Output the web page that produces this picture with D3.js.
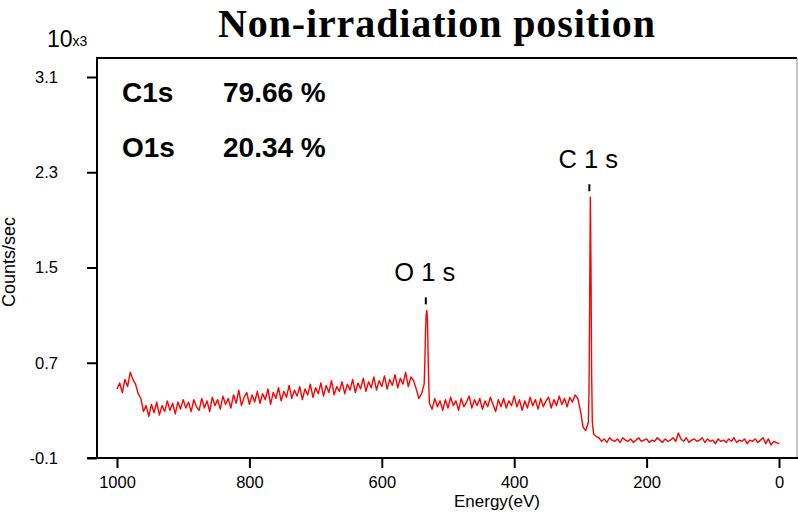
<!DOCTYPE html>
<html>
<meta charset="utf-8">
<title>Non-irradiation position</title>
<script src="https://cdnjs.cloudflare.com/ajax/libs/d3/7.8.5/d3.min.js"></script>
<style>
body { margin: 0; background: #fff; }
text { font-family: "Liberation Sans", Arial, sans-serif; fill: #000; }
.title { font-family: "Liberation Serif", "Times New Roman", serif; font-weight: bold; font-size: 40px; }
.tick text { font-size: 16.5px; }
.comp { font-size: 28px; font-weight: bold; }
.peak { font-size: 25.5px; }
</style>
<body>
<div id="chart"></div>
<script>
// spectrum, counts/sec in units of 10^3, sampled every 4 eV from 1000 eV down to 0 eV
var energyStart = 1000, energyStep = 4;
var counts = [
  0.48,0.53,0.45,0.56,0.50,0.62,0.56,0.52,0.44,0.40,
  0.29,0.34,0.25,0.35,0.28,0.37,0.26,0.34,0.29,0.38,
  0.30,0.36,0.27,0.37,0.31,0.39,0.32,0.37,0.29,0.39,
  0.33,0.30,0.40,0.32,0.38,0.29,0.41,0.34,0.39,0.31,
  0.42,0.35,0.40,0.32,0.43,0.36,0.47,0.34,0.41,0.45,
  0.35,0.43,0.37,0.46,0.36,0.44,0.39,0.48,0.35,0.45,
  0.40,0.49,0.38,0.46,0.41,0.51,0.40,0.47,0.42,0.50,
  0.39,0.48,0.43,0.52,0.41,0.49,0.44,0.53,0.42,0.51,
  0.45,0.55,0.43,0.50,0.46,0.54,0.44,0.52,0.47,0.56,
  0.45,0.53,0.48,0.57,0.46,0.54,0.49,0.58,0.47,0.55,
  0.50,0.59,0.48,0.56,0.51,0.60,0.49,0.57,0.52,0.62,
  0.50,0.58,0.55,0.48,0.40,0.44,0.52,1.14,0.36,0.31,
  0.40,0.33,0.38,0.30,0.39,0.32,0.41,0.34,0.38,0.30,
  0.40,0.33,0.37,0.42,0.32,0.39,0.34,0.40,0.31,0.38,
  0.33,0.41,0.35,0.29,0.39,0.33,0.40,0.32,0.38,0.34,
  0.42,0.33,0.39,0.30,0.38,0.32,0.41,0.34,0.39,0.31,
  0.40,0.33,0.38,0.41,0.32,0.39,0.34,0.42,0.35,0.40,
  0.33,0.41,0.37,0.43,0.40,0.30,0.16,0.13,0.20,2.09,
  0.10,0.08,0.07,0.04,0.06,0.03,0.07,0.05,0.04,0.06,
  0.03,0.07,0.05,0.04,0.06,0.03,0.05,0.07,0.04,0.05,
  0.06,0.03,0.05,0.04,0.07,0.05,0.03,0.06,0.04,0.05,
  0.07,0.04,0.11,0.06,0.04,0.07,0.03,0.05,0.06,0.04,
  0.05,0.07,0.03,0.06,0.04,0.05,0.02,0.06,0.04,0.05,
  0.03,0.06,0.04,0.07,0.03,0.05,0.04,0.06,0.02,0.05,
  0.04,0.06,0.03,0.05,0.07,0.02,0.06,0.01,0.04,0.03,
  0.02
];
// finer points across the two photoelectron peaks [eV, counts]
var o1sPeak = [[535,0.70],[534,0.95],[533,1.10],[532,1.14],[531,1.05],[530,0.75],[529,0.50]];
var c1sPeak = [[287,0.45],[286,1.20],[285,2.09],[284,1.50],[283,0.60],[282,0.20]];

var xTicks = [1000, 800, 600, 400, 200, 0];
var yTicks = [-0.1, 0.7, 1.5, 2.3, 3.1];
var composition = [["C1s", "79.66 %"], ["O1s", "20.34 %"]];
var peakLabels = [["O 1 s", 532, 1.14], ["C 1 s", 285, 2.09]];

var width = 798, height = 512;
var svg = d3.select("#chart").append("svg")
    .attr("width", width)
    .attr("height", height);

var x = d3.scaleLinear().domain([1000, 0]).range([117, 779]);
var y = d3.scaleLinear().domain([-0.1, 3.1]).range([458, 77]);

// merge the sampled spectrum with the peak points
var peaks = o1sPeak.concat(c1sPeak);
var inPeak = function(e) {
  return (e >= 529 && e <= 535) || (e >= 282 && e <= 287);
};
var spectrum = counts.map(function(v, i) { return [energyStart - i * energyStep, v]; })
    .filter(function(d) { return !inPeak(d[0]); })
    .concat(peaks)
    .sort(function(a, b) { return b[0] - a[0]; });

// frame
svg.append("line").attr("x1", 97).attr("x2", 797).attr("y1", 58).attr("y2", 58)
    .attr("stroke", "#000").attr("stroke-width", 2);
svg.append("line").attr("x1", 797).attr("x2", 797).attr("y1", 58).attr("y2", 458)
    .attr("stroke", "#888").attr("stroke-width", 1);
svg.append("line").attr("x1", 97).attr("x2", 97).attr("y1", 57).attr("y2", 459)
    .attr("stroke", "#000").attr("stroke-width", 2);
svg.append("line").attr("x1", 87).attr("x2", 798).attr("y1", 458).attr("y2", 458)
    .attr("stroke", "#000").attr("stroke-width", 2);

// axes
svg.append("g").attr("transform", "translate(97,0)")
    .call(d3.axisLeft(y).tickValues(yTicks).tickSize(10).tickPadding(29)
      .tickFormat(function(d) { return d.toFixed(1); }));
svg.append("g").attr("transform", "translate(0,458)")
    .call(d3.axisBottom(x).tickValues(xTicks).tickSize(10).tickPadding(8)
      .tickFormat(function(d) { return String(d); }));
svg.selectAll(".domain").remove();
svg.selectAll(".tick line").attr("stroke", "#000").attr("stroke-width", 2);
svg.selectAll(".tick text").attr("fill", "#000");

// spectrum line
var line = d3.line().x(function(d) { return x(d[0]); }).y(function(d) { return y(d[1]); });
svg.append("path").datum(spectrum)
    .attr("d", line)
    .attr("fill", "none")
    .attr("stroke", "#ff0000")
    .attr("stroke-width", 1.4)
    .attr("stroke-linejoin", "round");

// titles
svg.append("text").attr("class", "title")
    .attr("x", 218).attr("y", 37)
    .attr("textLength", 437).attr("lengthAdjust", "spacing")
    .text("Non-irradiation position");
var mult = svg.append("text").attr("x", 47).attr("y", 47).style("font-size", "23px");
mult.append("tspan").text("10");
mult.append("tspan").style("font-size", "14px").attr("dy", -1).text("x3");
svg.append("text").attr("x", 497).attr("y", 507).attr("text-anchor", "middle")
    .style("font-size", "17px").text("Energy(eV)");
svg.append("text").attr("transform", "translate(15,262) rotate(-90)")
    .attr("text-anchor", "middle").style("font-size", "18px").text("Counts/sec");

// composition table
composition.forEach(function(c, i) {
  svg.append("text").attr("class", "comp").attr("x", 122).attr("y", 102 + i * 55).text(c[0]);
  svg.append("text").attr("class", "comp").attr("x", 223).attr("y", 102 + i * 55).text(c[1]);
});

// peak labels with markers
peakLabels.forEach(function(p) {
  var px = x(p[1]), py = y(p[2]);
  svg.append("line").attr("x1", px - 1).attr("x2", px - 1)
      .attr("y1", py - 13).attr("y2", py - 6)
      .attr("stroke", "#000").attr("stroke-width", 2);
  svg.append("text").attr("class", "peak").attr("x", px - 2).attr("y", py - 29)
      .attr("text-anchor", "middle").text(p[0]);
});
</script>
</body>
</html>
